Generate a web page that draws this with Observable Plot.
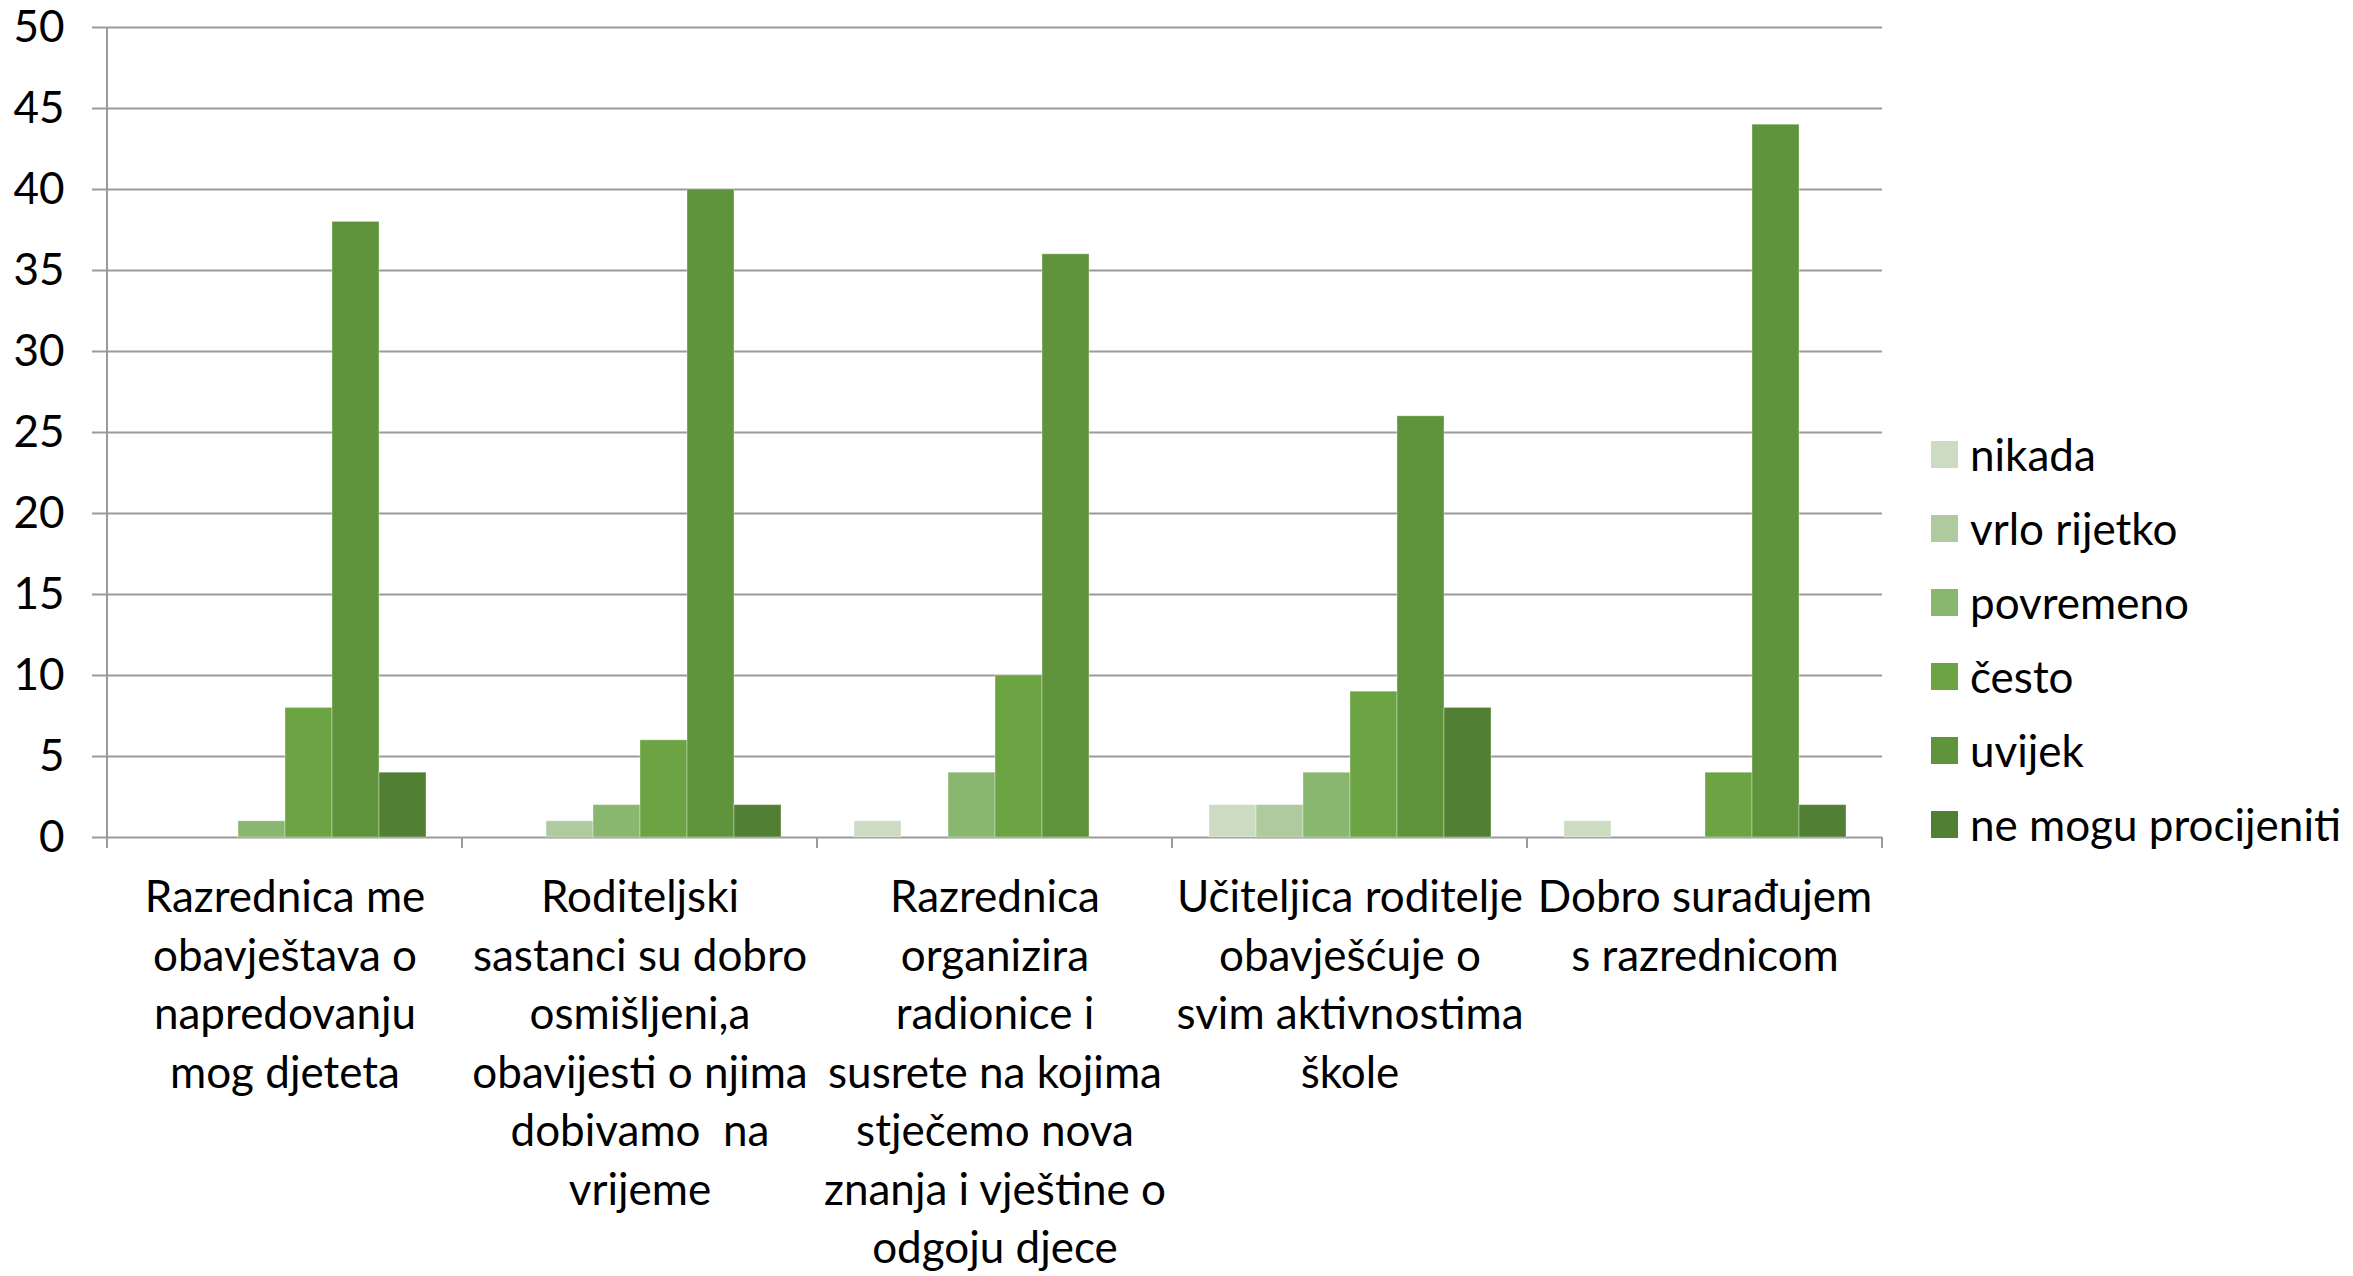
<!DOCTYPE html>
<html>
<head>
<meta charset="utf-8">
<script src="https://cdn.jsdelivr.net/npm/d3@7"></script>
<script src="https://cdn.jsdelivr.net/npm/@observablehq/plot@0.6"></script>
<style>
  body { margin: 0; background: #fff; }
  #wrap { position: relative; width: 2353px; height: 1276px; font-family: Lato, "Open Sans", sans-serif; background: #fff; }
  #legend { position: absolute; left: 1931px; top: 417px; display: flex; flex-direction: column; }
  .item { height: 74px; display: flex; align-items: center; white-space: nowrap; font-size: 44px; color: #000; }
  .sw { width: 27px; height: 27px; margin-right: 12px; flex: none; }
</style>
</head>
<body>
<div id="wrap"><div id="legend"></div></div>
<script>
const categories = [
  "Razrednica me obavještava o napredovanju mog djeteta",
  "Roditeljski sastanci su dobro osmišljeni,a obavijesti o njima dobivamo  na vrijeme",
  "Razrednica organizira radionice i susrete na kojima stječemo nova znanja i vještine o odgoju djece",
  "Učiteljica roditelje obavješćuje o svim aktivnostima škole",
  "Dobro surađujem s razrednicom"
];
const categoryLabels = [
  "Razrednica me\nobavještava o\nnapredovanju\nmog djeteta",
  "Roditeljski\nsastanci su dobro\nosmišljeni,a\nobavijesti o njima\ndobivamo  na\nvrijeme",
  "Razrednica\norganizira\nradionice i\nsusrete na kojima\nstječemo nova\nznanja i vještine o\nodgoju djece",
  "Učiteljica roditelje\nobavješćuje o\nsvim aktivnostima\nškole",
  "Dobro surađujem\ns razrednicom"
];
const series = ["nikada", "vrlo rijetko", "povremeno", "često", "uvijek", "ne mogu procijeniti"];
const colors = ["#CBDCC3", "#AECA9E", "#89B76F", "#6CA444", "#5F933C", "#517F34"];

const nikada      = [0, 0, 1, 2, 1];
const vrloRijetko = [0, 1, 0, 2, 0];
const povremeno   = [1, 2, 4, 4, 0];
const cesto       = [8, 6, 10, 9, 4];
const uvijek      = [38, 40, 36, 26, 44];
const neMogu      = [4, 2, 0, 8, 2];
const yTicks = [0, 5, 10, 15, 20, 25, 30, 35, 40, 45, 50];

const seriesValues = [nikada, vrloRijetko, povremeno, cesto, uvijek, neMogu];
const data = [];
series.forEach((s, si) => categories.forEach((c, ci) => {
  data.push({category: c, series: s, value: seriesValues[si][ci]});
}));
const labelOf = new Map(categories.map((c, i) => [c, categoryLabels[i]]));

const plot = Plot.plot({
  width: 2353,
  height: 1276,
  marginTop: 27,
  marginBottom: 439,
  marginLeft: 107,
  marginRight: 471,
  style: { fontFamily: "Lato, 'Open Sans', sans-serif", fontSize: "44px", color: "#000", background: "#fff" },
  fx: { domain: categories, padding: 0, label: null },
  x: { domain: series, paddingInner: 0, paddingOuter: 0.76, axis: null },
  y: { domain: [0, 50], label: null },
  color: { domain: series, range: colors },
  marks: [
    Plot.gridY(yTicks, { stroke: "#9a9a9a", strokeOpacity: 1, strokeWidth: 2 }),
    Plot.barY(data.filter(d => d.value > 0), {
      fx: "category", x: "series", y: "value", fill: "series",
      stroke: "#ffffff", strokeOpacity: 0.35, strokeWidth: 1
    }),
    Plot.axisY(yTicks, { tickSize: 15, tickPadding: 28, stroke: "#9a9a9a", strokeWidth: 2, fontSize: 44, label: null }),
    Plot.axisFx({ anchor: "bottom", tickSize: 0, tickPadding: 33, tickFormat: c => labelOf.get(c), lineHeight: 1.33, fontSize: 44, label: null })
  ]
});

// category boundary ticks and left axis line, positioned from the fx and y scales
const fx = plot.scale("fx");
const ys = plot.scale("y");
const y0 = ys.apply(0), y50 = ys.apply(50);
const bounds = categories.map(c => fx.apply(c));
bounds.push(fx.apply(categories[categories.length - 1]) + fx.bandwidth);
const g = d3.select(plot).append("g").attr("stroke", "#9a9a9a").attr("stroke-width", 2);
bounds.forEach((bx, i) => {
  g.append("line").attr("x1", bx).attr("x2", bx).attr("y1", i === 0 ? y50 : y0).attr("y2", y0 + 11);
});

document.getElementById("wrap").prepend(plot);

const legend = d3.select("#legend");
series.forEach((s, i) => {
  const item = legend.append("div").attr("class", "item");
  item.append("div").attr("class", "sw").style("background", colors[i]);
  item.append("span").text(s);
});
</script>
</body>
</html>
